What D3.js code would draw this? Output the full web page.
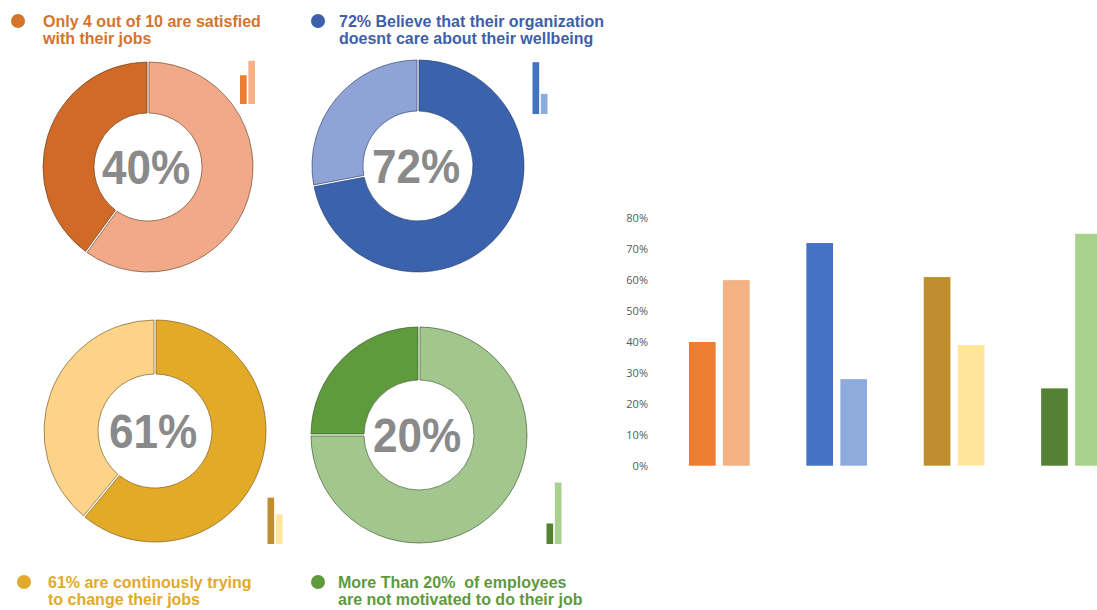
<!DOCTYPE html>
<html>
<head>
<meta charset="utf-8">
<script src="https://cdn.jsdelivr.net/npm/d3@7"></script>
<style>
  html, body { margin: 0; padding: 0; background: #ffffff; }
  svg { display: block; }
</style>
</head>
<body>
<svg id="chart" width="1097" height="610"></svg>
<script>
// ---- data ----
const surveyItems = ["Satisfied with job", "Organization cares", "Trying to change job", "Motivated at work"];
const mainShare = [40, 72, 61, 25];
const restShare = [60, 28, 39, 75];
const centreLabels = ["40%", "72%", "61%", "20%"];
const headlines = [
  ["Only 4 out of 10 are satisfied", "with their jobs"],
  ["72% Believe that their organization", "doesnt care about their wellbeing"],
  ["61% are continously trying", "to change their jobs"],
  ["More Than 20%  of employees", "are not motivated to do their job"]
];
const axisTicks = [0, 10, 20, 30, 40, 50, 60, 70, 80];

// ---- colours ----
const donutDark  = ["#D06A26", "#3A62AD", "#E2AA27", "#5F9A3C"];
const donutLight = ["#F2A98A", "#8FA3D6", "#FDD389", "#A2C68E"];
const barDark    = ["#ED7D31", "#4472C4", "#BF8F2F", "#548235"];
const barLight   = ["#F4B183", "#8FAADC", "#FFE699", "#A9D18E"];
const titleColor = ["#D4742D", "#3E5FAA", "#E2A92A", "#5E9A3C"];
const edgeColor  = ["#5a3515", "#1f3560", "#6a4c10", "#2f4d1e"];

// ---- panel layout ----
const panels = [
  { cx: 148, cy: 167, ro: 105, ri: 54, tx: 43,  ty: 27,  bx: 18,  by: 21,  mx: 240,   mb: 104, mh: 72 },
  { cx: 418, cy: 166, ro: 106, ri: 55, tx: 339, ty: 27,  bx: 318, by: 21,  mx: 532.5, mb: 114, mh: 72 },
  { cx: 155, cy: 431, ro: 111, ri: 57, tx: 48,  ty: 588, bx: 24,  by: 582, mx: 267.5, mb: 544, mh: 76 },
  { cx: 419, cy: 435, ro: 108, ri: 55, tx: 338, ty: 588, bx: 318, by: 582, mx: 546.5, mb: 544, mh: 82 }
];

const svg = d3.select("#chart");
const pie = d3.pie().value(d => d.v);   // default descending sort: larger share starts at 12 o'clock

panels.forEach((p, i) => {
  const g = svg.append("g");

  // headline with bullet
  g.append("circle")
    .attr("cx", p.bx).attr("cy", p.by).attr("r", 7)
    .attr("fill", titleColor[i]);
  const t = g.append("text")
    .attr("x", p.tx).attr("y", p.ty)
    .attr("fill", titleColor[i])
    .style("font-family", "'Liberation Sans', Arial, sans-serif")
    .style("font-weight", "bold")
    .style("font-size", "16px")
    .style("white-space", "pre");
  headlines[i].forEach((line, k) => {
    t.append("tspan").attr("x", p.tx).attr("dy", k === 0 ? 0 : 17).text(line);
  });

  // donut
  const arc = d3.arc().innerRadius(p.ri).outerRadius(p.ro);
  const slices = pie([
    { v: mainShare[i], c: donutDark[i] },
    { v: restShare[i], c: donutLight[i] }
  ]);
  const dg = g.append("g").attr("transform", `translate(${p.cx},${p.cy})`);
  dg.selectAll("path.slice")
    .data(slices).join("path")
    .attr("class", "slice")
    .attr("d", arc.padAngle(0.016))
    .attr("fill", d => d.data.c)
    .attr("stroke", edgeColor[i])
    .attr("stroke-opacity", 0.6)
    .attr("stroke-width", 1);

  dg.append("text")
    .attr("transform", "translate(-2,17) scale(0.9,1)")
    .attr("text-anchor", "middle")
    .attr("fill", "#8A8A8A")
    .style("font-family", "'Liberation Sans', Arial, sans-serif")
    .style("font-weight", "bold")
    .style("font-size", "49px")
    .text(centreLabels[i]);

  // mini column pair next to each donut
  const mx = d3.scaleBand().domain(["main", "rest"]).range([p.mx, p.mx + 15]).paddingInner(0.2);
  const my = d3.scaleLinear().domain([0, 100]).range([p.mb, p.mb - p.mh]);
  g.selectAll("rect.mini")
    .data([{ k: "main", v: mainShare[i], c: barDark[i] }, { k: "rest", v: restShare[i], c: barLight[i] }])
    .join("rect")
    .attr("class", "mini")
    .attr("x", d => mx(d.k))
    .attr("width", mx.bandwidth())
    .attr("y", d => my(d.v))
    .attr("height", d => my(0) - my(d.v))
    .attr("fill", d => d.c);
});

// ---- grouped column chart ----
const x0 = d3.scaleBand().domain(surveyItems).range([660.6, 1130.2]).paddingInner(0.483).paddingOuter(0.2415);
const x1 = d3.scaleBand().domain(["main", "rest"]).range([0, x0.bandwidth()]).paddingInner(0.215);
const y = d3.scaleLinear().domain([0, 80]).range([465.7, 218.3]);

const yAxis = d3.axisLeft(y)
  .tickValues(axisTicks)
  .tickFormat(d => d + "%")
  .tickSize(0)
  .tickPadding(0);

svg.append("g")
  .attr("transform", "translate(648,0)")
  .call(yAxis)
  .call(a => a.select(".domain").remove())
  .call(a => a.selectAll("text")
    .attr("fill", "#595959")
    .style("font-family", "'Open Sans', 'Noto Sans', sans-serif")
    .style("font-size", "11px"));

const groups = svg.append("g").selectAll("g")
  .data(surveyItems).join("g")
  .attr("transform", d => `translate(${x0(d)},0)`);

groups.selectAll("rect")
  .data((d, i) => [
    { k: "main", v: mainShare[i], c: barDark[i] },
    { k: "rest", v: restShare[i], c: barLight[i] }
  ])
  .join("rect")
  .attr("x", d => x1(d.k))
  .attr("width", x1.bandwidth())
  .attr("y", d => y(d.v))
  .attr("height", d => y(0) - y(d.v))
  .attr("fill", d => d.c);
</script>
</body>
</html>
